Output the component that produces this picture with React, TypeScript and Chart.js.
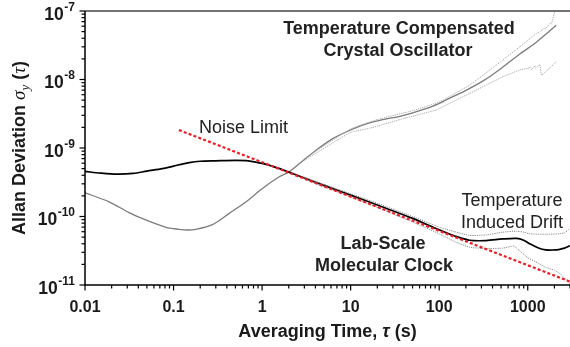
import React, { useEffect, useRef } from 'react';
import { Chart, registerables } from 'chart.js';

Chart.register(...registerables);

type Pt = [number, number];

// Axis ticks
const xTickValues = [0.01, 0.1, 1, 10, 100, 1000];
const xTickLabels = ['0.01', '0.1', '1', '10', '100', '1000'];
const yTickExponents = [-11, -10, -9, -8, -7];
const xRange: [number, number] = [0.01, 3000];
const yRange: [number, number] = [1e-11, 1e-7];

// Lab-scale molecular clock: Allan deviation and its error band
const clockMain: Pt[] = [
  [0.01, 4.55e-10], [0.015, 4.3e-10], [0.023, 4.15e-10], [0.035, 4.25e-10], [0.05, 4.6e-10],
  [0.075, 5.0e-10], [0.1, 5.45e-10], [0.15, 6.1e-10], [0.2, 6.4e-10], [0.3, 6.5e-10],
  [0.5, 6.6e-10], [0.7, 6.5e-10], [1, 5.95e-10], [1.4, 5.25e-10], [2, 4.45e-10],
  [3, 3.65e-10], [5, 2.85e-10], [10, 2.05e-10], [20, 1.47e-10], [50, 9.4e-11],
  [100, 6.4e-11], [150, 5.2e-11], [220, 4.5e-11], [340, 4.45e-11], [520, 4.7e-11],
  [750, 4.8e-11], [900, 4.5e-11], [1050, 4.0e-11], [1300, 3.5e-11], [1600, 3.25e-11],
  [2000, 3.25e-11], [2300, 3.32e-11], [2600, 3.45e-11], [3000, 3.75e-11],
];
const clockUpper: Pt[] = [
  [3, 3.75e-10], [5, 2.95e-10], [10, 2.15e-10], [20, 1.56e-10], [50, 1.0e-10],
  [100, 7.0e-11], [150, 6.0e-11], [220, 5.3e-11], [340, 5.4e-11], [520, 5.9e-11],
  [750, 6.1e-11], [900, 5.9e-11], [1050, 5.6e-11], [1600, 5.5e-11], [2300, 5.6e-11],
  [2600, 5.8e-11], [2900, 6.5e-11],
];
const clockLower: Pt[] = [
  [3, 3.55e-10], [5, 2.72e-10], [10, 1.93e-10], [20, 1.36e-10], [50, 8.3e-11],
  [100, 5.6e-11], [150, 4.3e-11], [220, 3.55e-11], [340, 3.4e-11], [520, 3.45e-11],
  [700, 3.7e-11], [800, 3.2e-11], [1000, 2.5e-11], [1300, 2.1e-11], [1600, 1.8e-11],
  [2000, 1.65e-11], [2400, 1.4e-11], [2700, 1.2e-11], [3000, 1.05e-11],
];

// Temperature compensated crystal oscillator
const tcxoMain: Pt[] = [
  [0.01, 2.22e-10], [0.0187, 1.64e-10], [0.0314, 1.14e-10], [0.0485, 8.9e-11], [0.082, 6.95e-11],
  [0.115, 6.5e-11], [0.143, 6.35e-11], [0.18, 6.5e-11], [0.275, 7.6e-11], [0.425, 1.11e-10],
  [0.66, 1.64e-10], [1, 2.55e-10], [1.56, 3.8e-10], [2, 4.45e-10], [3, 6.8e-10],
  [4.07, 9.3e-10], [6.27, 1.37e-9], [9.7, 1.8e-9], [15, 2.25e-9], [23, 2.6e-9],
  [36, 2.9e-9], [46, 3.15e-9], [85, 4.1e-9], [130, 5.3e-9], [203, 7.0e-9],
  [320, 9.7e-9], [500, 1.45e-8], [813, 2.35e-8], [1250, 3.5e-8], [1700, 4.9e-8], [2100, 6.2e-8],
];
const tcxoUpper: Pt[] = [
  [3, 7.0e-10], [10, 1.9e-9], [20, 2.6e-9], [50, 3.5e-9], [100, 4.7e-9],
  [221, 8.3e-9], [526, 1.93e-8], [813, 3.0e-8], [1100, 4.1e-8], [1255, 4.7e-8],
  [1400, 5.0e-8], [1500, 5.6e-8], [1600, 5.5e-8], [1774, 6.6e-8], [1850, 6.5e-8], [2018, 9.8e-8],
];
const tcxoLower: Pt[] = [
  [3, 6.6e-10], [10, 1.7e-9], [16.3, 1.94e-9], [40, 2.7e-9], [92.7, 3.59e-9],
  [221, 6.29e-9], [341, 8.31e-9], [526, 1.1e-8], [813, 1.38e-8], [1000, 1.45e-8],
  [1080, 1.52e-8], [1100, 1.38e-8], [1200, 1.58e-8], [1230, 1.45e-8], [1368, 1.66e-8],
  [1426, 1.16e-8], [1700, 1.4e-8], [2113, 1.82e-8],
];

// Noise limit (white frequency noise, tau^-1/2)
const noiseLimit: Pt[] = [[0.115, 1.83e-9], [3000, 1.12e-11]];

const SANS = '"Liberation Sans", Arial, Helvetica, sans-serif';
const SERIF = '"Liberation Serif", "Times New Roman", serif';

const toXY = (pts: Pt[]) => pts.map(([x, y]) => ({ x, y }));

type Run = { t: string; font: string; dy?: number };

function drawRuns(ctx: CanvasRenderingContext2D, runs: Run[], cx: number, baseline: number) {
  let total = 0;
  for (const r of runs) {
    ctx.font = r.font;
    total += ctx.measureText(r.t).width;
  }
  let x = cx - total / 2;
  ctx.textAlign = 'left';
  ctx.textBaseline = 'alphabetic';
  for (const r of runs) {
    ctx.font = r.font;
    ctx.fillText(r.t, x, baseline + (r.dy || 0));
    x += ctx.measureText(r.t).width;
  }
}

const framePlugin = {
  id: 'allanFrame',
  afterDatasetsDraw(chart: any) {
    const { ctx, chartArea: a, scales } = chart;
    const xs = scales.x;
    const ys = scales.y;
    ctx.save();

    // frame lines
    ctx.lineCap = 'butt';
    ctx.strokeStyle = '#444';
    ctx.lineWidth = 1.5;
    ctx.beginPath();
    ctx.moveTo(a.left, a.top);
    ctx.lineTo(a.right, a.top);
    ctx.stroke();
    ctx.strokeStyle = '#000';
    ctx.beginPath();
    ctx.moveTo(a.left, a.top);
    ctx.lineTo(a.left, a.bottom);
    ctx.lineTo(a.right, a.bottom);
    ctx.stroke();

    // x ticks
    ctx.lineWidth = 1.2;
    for (let d = -2; d <= 3; d++) {
      for (let m = 1; m <= 9; m++) {
        const v = m * Math.pow(10, d);
        if (v > xRange[1]) break;
        const px = xs.getPixelForValue(v);
        const len = m === 1 ? 5.5 : 3.5;
        ctx.beginPath();
        ctx.moveTo(px, a.bottom);
        ctx.lineTo(px, a.bottom + len);
        ctx.stroke();
      }
    }
    // y ticks
    for (let e = -11; e <= -7; e++) {
      for (let m = 1; m <= 9; m++) {
        if (e === -7 && m > 1) break;
        const v = m * Math.pow(10, e);
        const py = ys.getPixelForValue(v);
        const len = m === 1 ? 5.5 : 3.5;
        ctx.beginPath();
        ctx.moveTo(a.left, py);
        ctx.lineTo(a.left - len, py);
        ctx.stroke();
      }
    }

    ctx.fillStyle = '#1a1a1a';
    // x tick labels
    ctx.font = `bold 16px ${SANS}`;
    ctx.textAlign = 'center';
    ctx.textBaseline = 'alphabetic';
    xTickValues.forEach((v, i) => {
      const px = xs.getPixelForValue(v);
      ctx.fillText(xTickLabels[i], px, a.bottom + 27);
    });

    // y tick labels: 10 with superscript exponent
    yTickExponents.forEach((e) => {
      const py = ys.getPixelForValue(Math.pow(10, e));
      const right = a.left - 10;
      ctx.textAlign = 'right';
      ctx.font = `bold 12px ${SANS}`;
      const sup = String(e);
      const supW = ctx.measureText(sup).width;
      ctx.fillText(sup, right, py - 0.5);
      ctx.font = `bold 17.5px ${SANS}`;
      ctx.fillText('10', right - supW - 0.5, py + 8.5);
    });

    // axis titles
    drawRuns(ctx, [
      { t: 'Averaging Time, ', font: `bold 18px ${SANS}` },
      { t: 'τ', font: `italic bold 18px ${SANS}` },
      { t: ' (s)', font: `bold 18px ${SANS}` },
    ], (a.left + a.right) / 2, 337);

    ctx.save();
    ctx.translate(25, (a.top + a.bottom) / 2);
    ctx.rotate(-Math.PI / 2);
    drawRuns(ctx, [
      { t: 'Allan Deviation ', font: `bold 18px ${SANS}` },
      { t: 'σ', font: `italic 19px ${SERIF}` },
      { t: 'y', font: `italic 13px ${SERIF}`, dy: 4 },
      { t: ' (', font: `bold 18px ${SANS}` },
      { t: 'τ', font: `italic 19px ${SERIF}` },
      { t: ')', font: `bold 18px ${SANS}` },
    ], 0, 0);
    ctx.restore();

    // annotations
    ctx.fillStyle = '#222';
    ctx.textAlign = 'center';
    ctx.font = `bold 18px ${SANS}`;
    ctx.fillText('Temperature Compensated', 399, 34);
    ctx.fillText('Crystal Oscillator', 398, 56);
    ctx.fillText('Lab-Scale', 383, 249);
    ctx.fillText('Molecular Clock', 384, 271);
    ctx.font = `18px ${SANS}`;
    ctx.fillText('Temperature', 512, 206);
    ctx.fillText('Induced Drift', 512, 228);
    ctx.textAlign = 'left';
    ctx.fillText('Noise Limit', 199, 133);

    ctx.restore();
  },
};

export default function App() {
  const ref = useRef<HTMLCanvasElement | null>(null);

  useEffect(() => {
    document.body.style.margin = '0';
    const canvas = ref.current;
    if (!canvas) return;
    const line = (data: Pt[], color: string, width: number, dash: number[] = [], tension = 0.3) => ({
      data: toXY(data),
      borderColor: color,
      borderWidth: width,
      borderDash: dash,
      pointRadius: 0,
      fill: false,
      tension,
    });
    const chart = new Chart(canvas, {
      type: 'line',
      data: {
        datasets: [
          line(noiseLimit, '#ee1c24', 2.2, [3, 2.2], 0),
          line(clockUpper, '#8a8a8a', 1, [1.2, 1], 0.2),
          line(clockLower, '#8a8a8a', 1, [1.2, 1], 0.1),
          line(clockMain, '#000000', 1.7),
          line(tcxoUpper, '#a8a8a8', 1, [1.2, 1], 0.1),
          line(tcxoLower, '#a8a8a8', 1, [1.2, 1], 0.05),
          line(tcxoMain, '#7c7c7c', 1.3),
        ] as any,
      },
      options: {
        animation: false,
        responsive: false,
        maintainAspectRatio: false,
        devicePixelRatio: 1,
        layout: { padding: { left: 85, top: 11, right: 0, bottom: 62 } },
        plugins: { legend: { display: false }, tooltip: { enabled: false } },
        scales: {
          x: { type: 'logarithmic', min: xRange[0], max: xRange[1], display: false },
          y: { type: 'logarithmic', min: yRange[0], max: yRange[1], display: false },
        },
      },
      plugins: [framePlugin],
    });
    return () => chart.destroy();
  }, []);

  return <canvas ref={ref} width={570} height={347} style={{ display: 'block' }} />;
}
